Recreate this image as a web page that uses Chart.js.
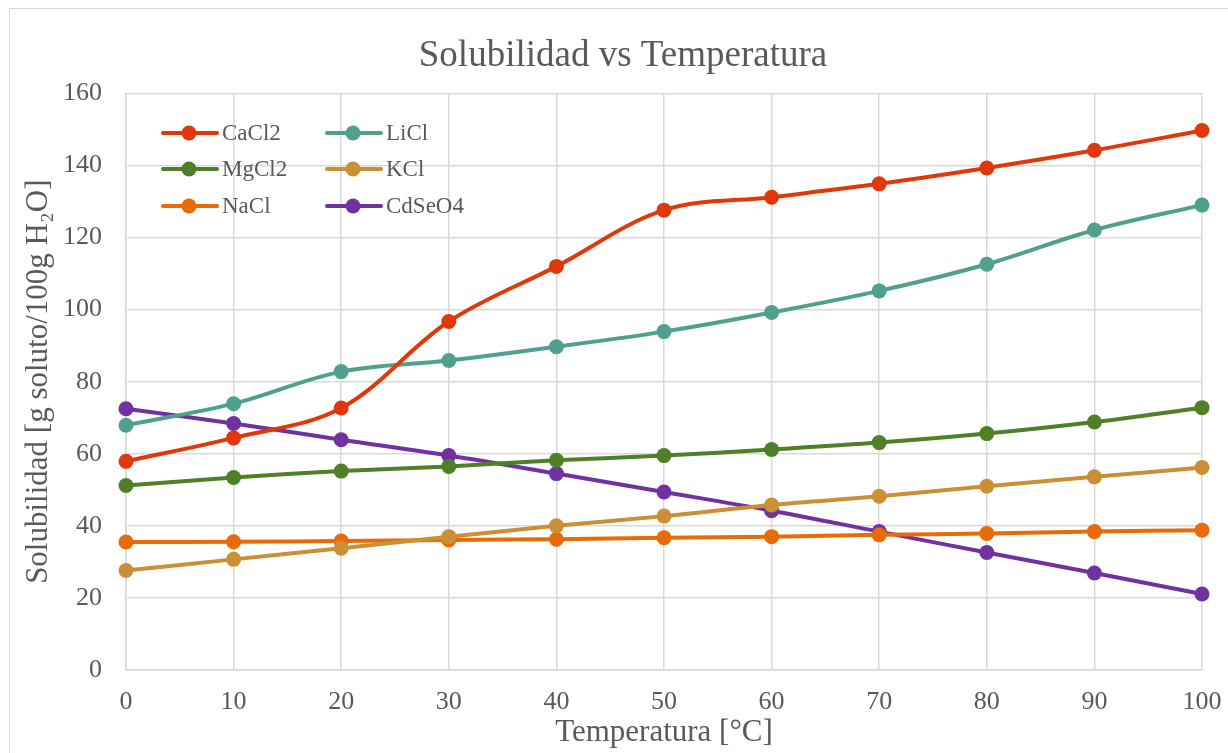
<!DOCTYPE html>
<html>
<head>
<meta charset="utf-8">
<script src="https://cdn.jsdelivr.net/npm/chart.js@4.4.0/dist/chart.umd.min.js"></script>
<style>
  html, body { margin: 0; padding: 0; background: #fff; overflow: hidden; }
  #wrap { position: relative; width: 1228px; height: 753px; }
  #frame { position: absolute; left: 9px; top: 8px; width: 1240px; height: 800px; border: 1.5px solid #d9d9d9; box-sizing: border-box; }
  #myChart { position: absolute; left: 0; top: 0; }
</style>
</head>
<body>
<div id="wrap">
  <div id="frame"></div>
  <canvas id="myChart" width="1228" height="753"></canvas>
</div>
<script>
// Temperatura (°C)
const temperaturas = ['0', '10', '20', '30', '40', '50', '60', '70', '80', '90', '100'];

// Solubilidad (g soluto / 100 g H2O)
const cacl2 = [57.9, 64.4, 72.7, 96.7, 112.0, 127.6, 131.2, 134.9, 139.3, 144.2, 149.7];
const licl = [67.9, 73.9, 82.8, 85.9, 89.7, 93.9, 99.2, 105.2, 112.6, 122.1, 129.0];
const mgcl2 = [51.2, 53.4, 55.2, 56.5, 58.2, 59.5, 61.2, 63.1, 65.6, 68.8, 72.8];
const kcl = [27.6, 30.7, 33.8, 37.0, 40.0, 42.7, 45.8, 48.2, 51.0, 53.6, 56.2];
const nacl = [35.5, 35.6, 35.8, 36.1, 36.3, 36.7, 37.0, 37.5, 37.9, 38.4, 38.8];
const cdseo4 = [72.5, 68.4, 63.9, 59.5, 54.5, 49.4, 44.2, 38.4, 32.6, 26.9, 21.1];

const seriesNames = ['CaCl2', 'LiCl', 'MgCl2', 'KCl', 'NaCl', 'CdSeO4'];
const seriesColors = ['#E0380B', '#4FA08E', '#4F8027', '#CB9036', '#E96A06', '#7231A1'];
const seriesValues = [cacl2, licl, mgcl2, kcl, nacl, cdseo4];

const textColor = '#595959';
const gridColor = '#d9d9d9';
const serif = "'Liberation Serif', 'Times New Roman', serif";

// Legenda dentro l'area del grafico, due colonne come in Excel
const insideLegend = {
    id: 'insideLegend',
    afterDraw(chart) {
        const c = chart.ctx;
        const colX = [163, 327];
        const rowY = [133, 169, 206];
        c.save();
        c.font = '23px ' + serif;
        c.textBaseline = 'middle';
        c.textAlign = 'left';
        chart.data.datasets.forEach((ds, i) => {
            const x = colX[i % 2];
            const y = rowY[Math.floor(i / 2)];
            c.strokeStyle = ds.borderColor;
            c.lineWidth = 4;
            c.lineCap = 'round';
            c.beginPath();
            c.moveTo(x, y);
            c.lineTo(x + 54, y);
            c.stroke();
            c.fillStyle = ds.borderColor;
            c.beginPath();
            c.arc(x + 26, y, 7.5, 0, Math.PI * 2);
            c.fill();
            c.fillStyle = textColor;
            c.fillText(ds.label, x + 59, y + 1);
        });
        c.restore();
    }
};

const ctx = document.getElementById('myChart');

const graph = new Chart(ctx, {
    type: 'line',
    data: {
        labels: temperaturas,
        datasets: seriesNames.map((name, i) => ({
            label: name,
            data: seriesValues[i],
            borderColor: seriesColors[i],
            backgroundColor: seriesColors[i],
            borderWidth: 4,
            pointRadius: 7.5,
            pointBorderWidth: 0,
            pointBackgroundColor: seriesColors[i],
            tension: 0.35,
            clip: false
        }))
    },
    options: {
        responsive: false,
        animation: false,
        layout: {
            padding: { left: 18, right: 0, top: 0, bottom: 0 }
        },
        plugins: {
            legend: { display: false },
            tooltip: { enabled: false },
            title: {
                display: true,
                text: 'Solubilidad vs Temperatura',
                color: textColor,
                font: { family: serif, size: 37, weight: 'normal' },
                padding: { top: 34, bottom: 15 }
            }
        },
        scales: {
            x: {
                afterFit(scale) {
                    scale.height = 83;
                    scale.paddingLeft = 0;
                    scale.paddingRight = 26;
                },
                grid: { color: gridColor, lineWidth: 1.5, drawTicks: false },
                border: { color: gridColor, width: 1.5 },
                ticks: {
                    color: textColor,
                    font: { family: serif, size: 26 },
                    padding: 17,
                    maxRotation: 0
                },
                title: {
                    display: true,
                    text: 'Temperatura [°C]',
                    color: textColor,
                    font: { family: serif, size: 31 },
                    padding: { top: 0, bottom: 2 }
                }
            },
            y: {
                min: 0,
                max: 160,
                afterFit(scale) { scale.width = 108; },
                grid: { color: gridColor, lineWidth: 1.5, drawTicks: false },
                border: { color: gridColor, width: 1.5 },
                ticks: {
                    stepSize: 20,
                    color: textColor,
                    font: { family: serif, size: 26 },
                    padding: 24
                },
                title: {
                    display: true,
                    text: 'Solubilidad [g soluto/100g H₂O]',
                    color: textColor,
                    font: { family: serif, size: 31 },
                    padding: { top: 2, bottom: 0 }
                }
            }
        }
    },
    plugins: [insideLegend]
});
</script>
</body>
</html>
